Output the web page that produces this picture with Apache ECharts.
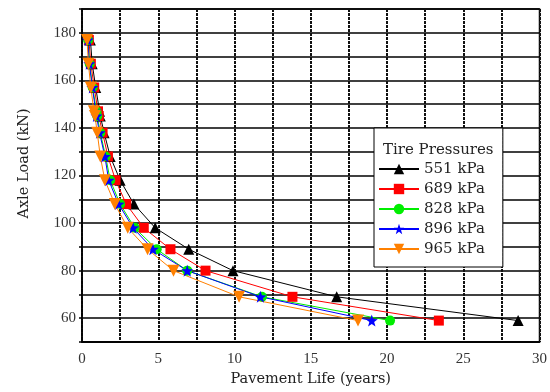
<!DOCTYPE html>
<html><head><meta charset="utf-8">
<script src="https://cdn.jsdelivr.net/npm/echarts@6/dist/echarts.min.js"></script>
<style>html,body{margin:0;padding:0;background:#fff}#c{width:550px;height:392px}</style>
</head><body><div id="c"></div>
<script>
const loads = [177, 167, 157, 147, 145, 138, 128, 118, 108, 98, 89, 80, 69, 59];
const life551 = [0.55, 0.67, 0.9, 1.15, 1.2, 1.45, 1.85, 2.5, 3.4, 4.8, 7.0, 9.9, 16.7, 28.6];
const life689 = [0.45, 0.58, 0.8, 1.05, 1.1, 1.35, 1.7, 2.2, 2.9, 4.05, 5.8, 8.1, 13.8, 23.4];
const life828 = [0.4, 0.5, 0.7, 0.95, 1.0, 1.2, 1.55, 1.85, 2.5, 3.45, 4.9, 6.9, 11.8, 20.2];
const life896 = [0.38, 0.48, 0.68, 0.9, 0.95, 1.15, 1.5, 1.75, 2.4, 3.35, 4.65, 6.9, 11.7, 19.0];
const life965 = [0.33, 0.42, 0.58, 0.78, 0.85, 1.0, 1.2, 1.5, 2.15, 3.0, 4.3, 6.0, 10.3, 18.1];
const seriesNames = ['551 kPa', '689 kPa', '828 kPa', '896 kPa', '965 kPa'];
const legendTitle = 'Tire Pressures';

const font = 'Liberation Serif';
const font2 = 'DejaVu Serif';
const defs = [
  {name: seriesNames[0], data: life551, color: '#000000', symbol: 'triangle', size: 11},
  {name: seriesNames[1], data: life689, color: '#ff0000', symbol: 'rect', size: 10},
  {name: seriesNames[2], data: life828, color: '#00ee00', symbol: 'circle', size: 10},
  {name: seriesNames[3], data: life896, color: '#0000ff', symbol: 'path://M0,-10 L2.35,-3.24 L9.51,-3.09 L3.8,1.24 L5.88,8.09 L0,4 L-5.88,8.09 L-3.8,1.24 L-9.51,-3.09 L-2.35,-3.24 Z', size: 12},
  {name: seriesNames[4], data: life965, color: '#ff8000', symbol: 'triangle', rotate: 180, size: 12}
];
const series = defs.map(d => ({
  name: d.name, type: 'line',
  data: d.data.map((x, i) => [x, loads[i]]),
  symbol: d.symbol, symbolSize: d.size, symbolRotate: d.rotate || 0,
  lineStyle: {color: d.color, width: 1},
  itemStyle: {color: d.color},
  z: 3
}));

const chart = echarts.init(document.getElementById('c'));
chart.setOption({
  animation: false,
  backgroundColor: '#fff',
  grid: {left: 82, right: 9, top: 9, bottom: 50, show: true, borderColor: '#000', borderWidth: 1.5},
  title: {text: legendTitle, left: 378, top: 138,
    textStyle: {fontFamily: font2, fontSize: 15, fontWeight: 'normal', color: '#222'}},
  legend: {
    orient: 'vertical', left: 374, top: 128,
    padding: [33, 18, 10, 4],
    itemGap: 4, itemWidth: 40, itemHeight: 13,
    backgroundColor: '#fff', borderColor: '#000', borderWidth: 1,
    textStyle: {fontFamily: font2, fontSize: 15, color: '#222', lineHeight: 16},
    data: seriesNames
  },
  xAxis: {
    type: 'value', min: 0, max: 30, interval: 5,
    name: 'Pavement Life (years)', nameLocation: 'middle', nameGap: 30,
    nameTextStyle: {fontFamily: font2, fontSize: 14.5, color: '#222'},
    axisLine: {show: true, onZero: false, lineStyle: {color: '#000', width: 1.5}},
    axisTick: {show: false},
    axisLabel: {fontFamily: font, fontSize: 15, color: '#333', margin: 10},
    splitLine: {show: true, lineStyle: {color: '#111', width: 2, type: [3, 1]}},
    minorTick: {show: false, splitNumber: 2},
    minorSplitLine: {show: true, lineStyle: {color: '#111', width: 2, type: [3, 1]}}
  },
  yAxis: {
    type: 'value', min: 50, max: 190, interval: 10,
    name: 'Axle Load (kN)', nameLocation: 'middle', nameGap: 50,
    nameTextStyle: {fontFamily: font2, fontSize: 14.5, color: '#222', padding: [0, 0, 0, 24]},
    axisLine: {show: true, onZero: false, lineStyle: {color: '#000', width: 1.5}},
    axisTick: {show: true, inside: false, length: 3, lineStyle: {color: '#000', width: 1.5}},
    axisLabel: {fontFamily: font, fontSize: 15, color: '#333', margin: 6,
      formatter: v => (v % 20 === 0 ? String(v) : '')},
    splitLine: {show: true, lineStyle: {color: '#000', width: 1.5}}
  },
  series: series
});
</script></body></html>
